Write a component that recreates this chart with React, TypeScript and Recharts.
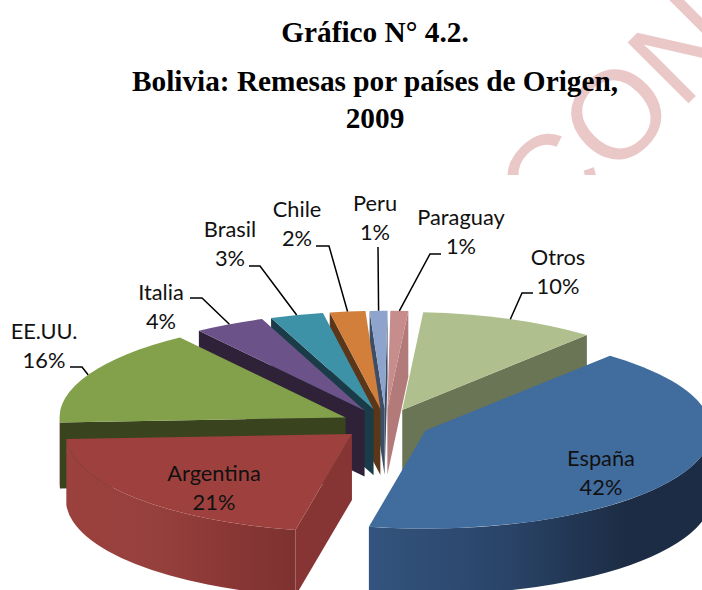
import { PieChart, Pie } from 'recharts';

const countries = ['España', 'Argentina', 'EE.UU.', 'Italia', 'Brasil', 'Chile', 'Peru', 'Paraguay', 'Otros'];
const shares = [42, 21, 16, 4, 3, 2, 1, 1, 10];
const chartData = countries.map((name, i) => ({ name, value: shares[i] }));

// back slices first, the front ones paint over them
const drawOrder = ['Paraguay', 'Peru', 'Chile', 'Brasil', 'Italia', 'Otros', 'EE.UU.', 'Argentina', 'España'];

const titleLines = ['Gráfico N° 4.2.', 'Bolivia: Remesas por países de Origen,', '2009'];
const titleY = [32, 81, 118];

const WIDTH = 702;
const HEIGHT = 590;
const CX = 385.5;
const CY = 424;
const RX = 286;
const RY = 98;
const DEPTH = 66;
const EXPLODE = 0.155;
const FIRST_SLICE = 40.2; // clock degrees where España starts

const TOP: Record<string, string> = {
  'España': '#416c9e', Argentina: '#9e413e', 'EE.UU.': '#83a04a', Italia: '#6b5389', Brasil: '#3d92a8',
  Chile: '#d17f3b', Peru: '#8fa4cc', Paraguay: '#c78d8c', Otros: '#afc08e',
};
const WALL: Record<string, string> = {
  'España': '#33537d', Argentina: '#873534', 'EE.UU.': '#39431e', Italia: '#2e2138', Brasil: '#1a3c48',
  Chile: '#5c3618', Peru: '#3d4d66', Paraguay: '#b27a79', Otros: '#6a7555',
};

// label text centre and leader elbow, in px
const LABELS: Record<string, { x: number; y: number; leader?: number[] }> = {
  'España': { x: 601, y: 457 },
  Argentina: { x: 214, y: 472 },
  'EE.UU.': { x: 44, y: 330, leader: [70, 367, 82, 367] },
  Italia: { x: 161, y: 291, leader: [190, 298, 202, 298] },
  Brasil: { x: 230, y: 228, leader: [249, 266, 260, 266] },
  Chile: { x: 297, y: 208, leader: [316, 246, 329, 246] },
  Peru: { x: 375, y: 202, leader: [378, 247, 378, 247] },
  Paraguay: { x: 461, y: 216, leader: [441, 254, 430, 254] },
  Otros: { x: 558, y: 256, leader: [533, 293, 522, 293] },
};

const rad = (d: number) => (d * Math.PI) / 180;

// flat ellipse projection: clock angle (0 = top, clockwise) to screen
const project = (ox: number, oy: number, clock: number) => ({
  x: ox + RX * Math.sin(rad(clock)),
  y: oy - RY * Math.cos(rad(clock)),
});

const apexOf = (mid: number) => ({
  x: CX + EXPLODE * RX * Math.sin(rad(mid)),
  y: CY - EXPLODE * RY * Math.cos(rad(mid)),
});

const arc = (a: { x: number; y: number }, b: { x: number; y: number }, span: number, sweep: number) =>
  `A ${RX} ${RY} 0 ${span > 180 ? 1 : 0} ${sweep} ${b.x} ${b.y}`;

function Slice3D(props: any, layer: string) {
  const { name, startAngle, endAngle } = props;
  if (name !== layer) return <g />;
  const a1 = 90 - startAngle;
  const a2 = 90 - endAngle;
  const apex = apexOf((a1 + a2) / 2);
  const p1 = project(apex.x, apex.y, a1);
  const p2 = project(apex.x, apex.y, a2);
  const radialWall = (p: { x: number; y: number }) =>
    `M ${apex.x} ${apex.y} L ${p.x} ${p.y} L ${p.x} ${p.y + DEPTH} L ${apex.x} ${apex.y + DEPTH} Z`;

  // outer wall only shows on the front half of the ellipse
  const f1 = Math.max(a1, 90);
  const f2 = Math.min(a2, 270);
  let outer = null;
  if (f2 > f1) {
    const q1 = project(apex.x, apex.y, f1);
    const q2 = project(apex.x, apex.y, f2);
    const id = `wall-${props.index}`;
    const stops = name === 'España'
      ? [['#33547e', 0], ['#2a4468', 0.4], ['#1c2c44', 0.75], ['#1c2c44', 1]]
      : [['#9b413e', 0], ['#96403d', 0.4], ['#8a3736', 0.7], ['#7d3230', 1]];
    const xs = [q1.x, q2.x].sort((a, b) => a - b);
    outer = (
      <>
        <defs>
          <linearGradient id={id} gradientUnits="userSpaceOnUse" x1={xs[0]} x2={xs[1]} y1={0} y2={0}>
            {stops.map(([c, o]) => <stop key={String(o)} offset={o as number} stopColor={c as string} />)}
          </linearGradient>
        </defs>
        <path
          d={`M ${q1.x} ${q1.y} ${arc(q1, q2, f2 - f1, 1)} L ${q2.x} ${q2.y + DEPTH} ${arc(
            q2,
            { x: q1.x, y: q1.y + DEPTH },
            f2 - f1,
            0,
          )} Z`}
          fill={`url(#${id})`}
        />
      </>
    );
  }

  return (
    <g>
      {Math.sin(rad(a1)) < 0 && <path d={radialWall(p1)} fill={WALL[name]} />}
      {Math.sin(rad(a2)) > 0 && <path d={radialWall(p2)} fill={WALL[name]} />}
      {outer}
      <path
        d={`M ${apex.x} ${apex.y} L ${p1.x} ${p1.y} ${arc(p1, p2, a2 - a1, 1)} Z`}
        fill={TOP[name]}
      />
    </g>
  );
}

function SliceLabel(props: any) {
  const { name, value, midAngle } = props;
  const pos = LABELS[name];
  const apex = apexOf(90 - midAngle);
  const end = project(apex.x, apex.y, 90 - midAngle);
  return (
    <g>
      {pos.leader && (
        <polyline
          points={`${pos.leader[0]},${pos.leader[1]} ${pos.leader[2]},${pos.leader[3]} ${end.x},${end.y}`}
          fill="none"
          stroke="#000"
          strokeWidth={1.5}
        />
      )}
      <text x={pos.x} y={pos.y} textAnchor="middle" dominantBaseline="central" fontFamily="Lato" fontSize={21.8} fill="#111">
        {name}
      </text>
      <text x={pos.x} y={pos.y + 29.5} textAnchor="middle" dominantBaseline="central" fontFamily="Lato" fontSize={21.8} fill="#111">
        {value}%
      </text>
    </g>
  );
}

export default function App() {
  return (
    <div style={{ position: 'absolute', left: 0, top: 0, width: WIDTH, height: HEIGHT, overflow: 'hidden', background: '#fff' }}>
      {/* watermark, cut off where the chart picture begins */}
      <svg width={WIDTH} height={175} style={{ position: 'absolute', left: 0, top: 0 }}>
        <text
          transform="translate(616 114) rotate(-45)"
          textAnchor="middle"
          dominantBaseline="central"
          fontFamily="Liberation Sans"
          fontSize={125}
          fill="#eac8c8"
        >
          CON
        </text>
      </svg>
      <svg width={WIDTH} height={175} style={{ position: 'absolute', left: 0, top: 0 }}>
        {titleLines.map((line, i) => (
          <text
            key={line}
            x={375}
            y={titleY[i]}
            textAnchor="middle"
            dominantBaseline="central"
            fontFamily="Liberation Serif"
            fontWeight="bold"
            fontSize={29.3}
            fill="#000"
          >
            {line}
          </text>
        ))}
      </svg>
      <div style={{ position: 'absolute', left: 0, top: 0 }}>
        <PieChart width={WIDTH} height={HEIGHT} margin={{ top: 0, right: 0, bottom: 0, left: 0 }}>
          {drawOrder.map((layer) => (
            <Pie
              key={layer}
              data={chartData}
              dataKey="value"
              nameKey="name"
              cx={CX}
              cy={CY}
              outerRadius={RX}
              startAngle={90 - FIRST_SLICE}
              endAngle={90 - FIRST_SLICE - 360}
              stroke="none"
              isAnimationActive={false}
              shape={(p: any) => Slice3D(p, layer)}
            />
          ))}
          <Pie
            data={chartData}
            dataKey="value"
            nameKey="name"
            cx={CX}
            cy={CY}
            outerRadius={RX}
            startAngle={90 - FIRST_SLICE}
            endAngle={90 - FIRST_SLICE - 360}
            stroke="none"
            isAnimationActive={false}
            shape={() => <g />}
            labelLine={false}
            label={SliceLabel}
          />
        </PieChart>
      </div>
    </div>
  );
}
